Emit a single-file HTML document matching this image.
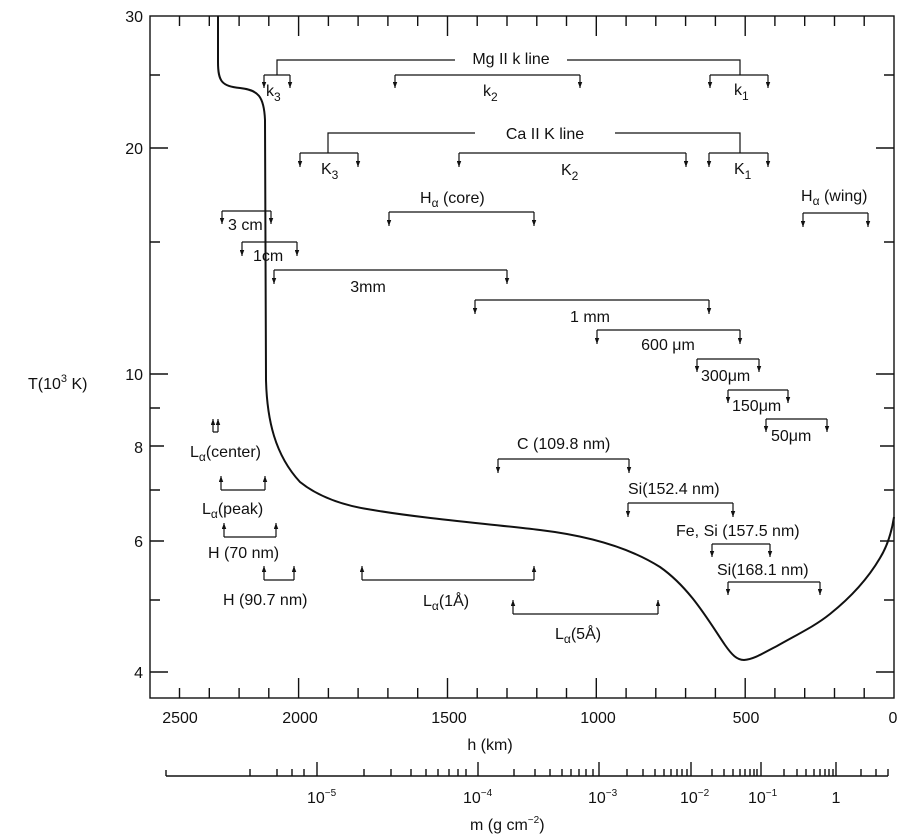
<!DOCTYPE html>
<html><head><meta charset="utf-8"><style>
html,body{margin:0;padding:0;background:#fff;}
svg{display:block;font-family:"Liberation Sans",sans-serif;}
text{fill:#111;}
</style></head><body>
<svg width="919" height="840" viewBox="0 0 919 840" xmlns="http://www.w3.org/2000/svg">
<defs>
<marker id="m" viewBox="0 0 8 6" refX="8" refY="3" markerWidth="6" markerHeight="4.5" orient="auto" markerUnits="userSpaceOnUse">
<path d="M0,0 L8,3 L0,6 Z" fill="#111"/>
</marker>
</defs>
<g stroke="#111" fill="none" stroke-width="1.4">
<rect x="150" y="16" width="744" height="682"/>
<path d="M864.2,16v10M834.5,16v10M804.7,16v10M774.9,16v10M745.2,16v20M715.4,16v10M685.6,16v10M655.8,16v10M626.1,16v10M596.3,16v20M566.5,16v10M536.8,16v10M507,16v10M477.2,16v10M447.5,16v20M417.7,16v10M387.9,16v10M358.1,16v10M328.4,16v10M298.6,16v20M268.8,16v10M239.1,16v10M209.3,16v10M179.5,16v10"/>
<path d="M864.2,698v-10M834.5,698v-10M804.7,698v-10M774.9,698v-10M745.2,698v-20M715.4,698v-10M685.6,698v-10M655.8,698v-10M626.1,698v-10M596.3,698v-20M566.5,698v-10M536.8,698v-10M507,698v-10M477.2,698v-10M447.5,698v-20M417.7,698v-10M387.9,698v-10M358.1,698v-10M328.4,698v-10M298.6,698v-20M268.8,698v-10M239.1,698v-10M209.3,698v-10M179.5,698v-10"/>
<path d="M150,75h10M150,148h18M150,242h10M150,374h18M150,408h10M150,446h14M150,490h10M150,541h14M150,600h10M150,672h18"/>
<path d="M894,75h-10M894,148h-18M894,242h-10M894,374h-18M894,408h-10M894,446h-14M894,490h-10M894,541h-14M894,600h-10M894,672h-18"/>
<path stroke-width="2" d="M218,16 L218,62 C218,82 222,86 240,88 C258,90 264,96 265,120 L266,380 C267,420 275,455 300,482 C320,498 345,506 373,510 C420,518 480,523 540,530 C590,536 630,548 660,567 C690,588 708,620 725,645 C732,655 737,660 744,660 C755,659 765,652 777,646 C800,633 815,626 830,614 C855,594 870,575 880,558 C888,545 892,530 894,517"/>
<path d="M166,776H888"/>
<path d="M166,776v-6M250,776v-7M277,776v-7M292,776v-7M304,776v-7M317,776v-14
M364,776v-7M391,776v-7M411,776v-7M426,776v-7M438,776v-7M449,776v-7M458,776v-7M466,776v-7M478,776v-14
M514,776v-7M535,776v-7M550,776v-7M562,776v-7M571,776v-7M579,776v-7M586,776v-7M593,776v-7M599,776v-14
M627,776v-7M643,776v-7M655,776v-7M664,776v-7M671,776v-7M677,776v-7M682,776v-7M687,776v-7M691,776v-14
M712,776v-7M724,776v-7M733,776v-7M740,776v-7M745,776v-7M750,776v-7M754,776v-7M757,776v-7M761,776v-14
M784,776v-7M797,776v-7M806,776v-7M814,776v-7M820,776v-7M825,776v-7M829,776v-7M833,776v-7M836,776v-14
M861,776v-7M876,776v-7M888,776v-7"/>
</g>
<g stroke="#111" fill="none" stroke-width="1.2">
<path d="M277,75V60H455M567,60H740V75"/>
<path d="M264,75H290M395,75H580M710,75H768M300,153H358M459,153H686M709,153H768"/>
<path d="M328,153V133H475M615,133H740V153"/>
<path d="M389,212H534M803,213H868M222,211H271M242,242H297M274,270H507M475,300H709M597,330H740M697,359H759M728,390H788M766,419H827M498,459H629M628,503H733M712,544H770M728,582H820"/>
<path d="M213,432H218M221,490H265M224,537H276M264,580H294M362,580H534M513,614H658"/>
</g>
<g stroke="#111" fill="none" stroke-width="1.2" marker-end="url(#m)">
<path d="M264,75V88"/><path d="M290,75V88"/><path d="M395,75V88"/><path d="M580,75V88"/><path d="M710,75V88"/><path d="M768,75V88"/>
<path d="M300,153V167"/><path d="M358,153V167"/><path d="M459,153V167"/><path d="M686,153V167"/><path d="M709,153V167"/><path d="M768,153V167"/>
<path d="M389,212V226"/><path d="M534,212V226"/><path d="M803,213V227"/><path d="M868,213V227"/>
<path d="M222,211V224"/><path d="M271,211V224"/><path d="M242,242V256"/><path d="M297,242V256"/>
<path d="M274,270V284"/><path d="M507,270V284"/><path d="M475,300V314"/><path d="M709,300V314"/>
<path d="M597,330V344"/><path d="M740,330V344"/><path d="M697,359V372"/><path d="M759,359V372"/>
<path d="M728,390V403"/><path d="M788,390V403"/><path d="M766,419V432"/><path d="M827,419V432"/>
<path d="M498,459V473"/><path d="M629,459V473"/><path d="M628,503V517"/><path d="M733,503V517"/>
<path d="M712,544V557"/><path d="M770,544V557"/><path d="M728,582V595"/><path d="M820,582V595"/>
<path d="M213,432V419"/><path d="M218,432V419"/><path d="M221,490V476"/><path d="M265,490V476"/>
<path d="M224,537V523"/><path d="M276,537V523"/><path d="M264,580V566"/><path d="M294,580V566"/>
<path d="M362,580V566"/><path d="M534,580V566"/><path d="M513,614V600"/><path d="M658,614V600"/>
</g>
<g font-size="16">
<text x="511" y="64" text-anchor="middle">Mg II k line</text>
<text x="545" y="139" text-anchor="middle">Ca II K line</text>
<text x="266" y="96">k<tspan font-size="12" dy="5">3</tspan></text>
<text x="483" y="96">k<tspan font-size="12" dy="5">2</tspan></text>
<text x="734" y="95">k<tspan font-size="12" dy="5">1</tspan></text>
<text x="321" y="174">K<tspan font-size="12" dy="5">3</tspan></text>
<text x="561" y="175">K<tspan font-size="12" dy="5">2</tspan></text>
<text x="734" y="174">K<tspan font-size="12" dy="5">1</tspan></text>
<text x="420" y="203">H<tspan font-size="12" dy="4">α</tspan><tspan dy="-4"> (core)</tspan></text>
<text x="801" y="201">H<tspan font-size="12" dy="4">α</tspan><tspan dy="-4"> (wing)</tspan></text>
<text x="228" y="230">3 cm</text>
<text x="253" y="261">1cm</text>
<text x="368" y="292" text-anchor="middle">3mm</text>
<text x="590" y="322" text-anchor="middle">1 mm</text>
<text x="668" y="350" text-anchor="middle">600 μm</text>
<text x="701" y="381">300μm</text>
<text x="732" y="411">150μm</text>
<text x="771" y="441">50μm</text>
<text x="517" y="449">C (109.8 nm)</text>
<text x="628" y="494">Si(152.4 nm)</text>
<text x="676" y="536">Fe, Si (157.5 nm)</text>
<text x="717" y="575">Si(168.1 nm)</text>
<text x="190" y="457">L<tspan font-size="12" dy="4">α</tspan><tspan dy="-4">(center)</tspan></text>
<text x="202" y="514">L<tspan font-size="12" dy="4">α</tspan><tspan dy="-4">(peak)</tspan></text>
<text x="208" y="558">H (70 nm)</text>
<text x="223" y="605">H (90.7 nm)</text>
<text x="423" y="606">L<tspan font-size="12" dy="4">α</tspan><tspan dy="-4">(1Å)</tspan></text>
<text x="555" y="639">L<tspan font-size="12" dy="4">α</tspan><tspan dy="-4">(5Å)</tspan></text>
</g>
<g font-size="16">
<text x="143" y="22" text-anchor="end">30</text>
<text x="143" y="154" text-anchor="end">20</text>
<text x="143" y="380" text-anchor="end">10</text>
<text x="143" y="453" text-anchor="end">8</text>
<text x="143" y="547" text-anchor="end">6</text>
<text x="143" y="678" text-anchor="end">4</text>
<text x="28" y="389">T(10<tspan font-size="11" dy="-7">3</tspan><tspan dy="7"> K)</tspan></text>
<text x="180" y="723" text-anchor="middle">2500</text>
<text x="300" y="723" text-anchor="middle">2000</text>
<text x="449" y="723" text-anchor="middle">1500</text>
<text x="598" y="723" text-anchor="middle">1000</text>
<text x="746" y="723" text-anchor="middle">500</text>
<text x="893" y="723" text-anchor="middle">0</text>
<text x="490" y="750" text-anchor="middle">h  (km)</text>
<text x="307" y="803">10<tspan font-size="10" dy="-7">−5</tspan></text>
<text x="463" y="803">10<tspan font-size="10" dy="-7">−4</tspan></text>
<text x="588" y="803">10<tspan font-size="10" dy="-7">−3</tspan></text>
<text x="680" y="803">10<tspan font-size="10" dy="-7">−2</tspan></text>
<text x="748" y="803">10<tspan font-size="10" dy="-7">−1</tspan></text>
<text x="836" y="803" text-anchor="middle">1</text>
<text x="470" y="830">m (g cm<tspan font-size="10" dy="-7">−2</tspan><tspan dy="7">)</tspan></text>
</g>
</svg>
</body></html>
